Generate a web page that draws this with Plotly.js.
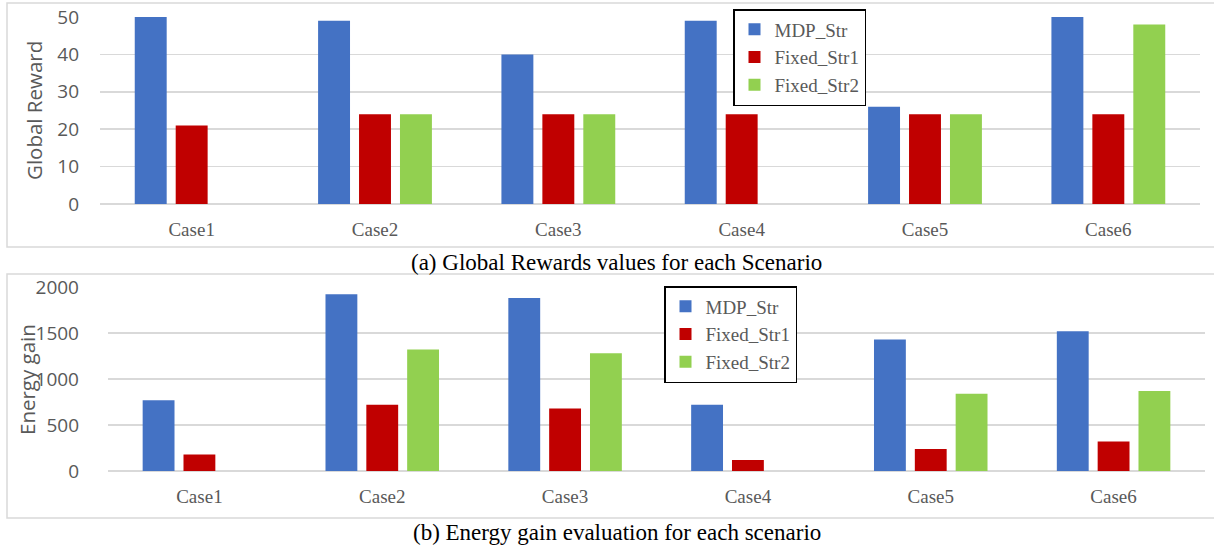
<!DOCTYPE html>
<html>
<head>
<meta charset="utf-8">
<script src="https://cdn.plot.ly/plotly-3.0.1.min.js"></script>
<style>html,body{margin:0;padding:0;background:#fff;}#chart{width:1214px;height:549px;}</style>
</head>
<body>
<div id="chart"></div>
<script>
const categories = ["Case1", "Case2", "Case3", "Case4", "Case5", "Case6"];
const seriesNames = ["MDP_Str", "Fixed_Str1", "Fixed_Str2"];
const rewardMDP = [50, 49, 40, 49, 26, 50];
const rewardFixed1 = [21, 24, 24, 24, 24, 24];
const rewardFixed2 = [0, 24, 24, 0, 24, 48];
const energyMDP = [770, 1920, 1880, 720, 1430, 1520];
const energyFixed1 = [180, 720, 680, 120, 240, 320];
const energyFixed2 = [0, 1320, 1280, 0, 840, 870];
const rewardTicks = [0, 10, 20, 30, 40, 50];
const energyTicks = [0, 500, 1000, 1500, 2000];
const colors = ["#4472C4", "#C00000", "#92D050"];

const W = 1214, H = 549;
const px = v => v / W;
const py = v => 1 - v / H;

const topVals = [rewardMDP, rewardFixed1, rewardFixed2];
const botVals = [energyMDP, energyFixed1, energyFixed2];
const traces = [];
topVals.forEach((vals, i) => traces.push({
  type: 'bar', x: categories, y: vals, name: seriesNames[i],
  marker: {color: colors[i]}, xaxis: 'x', yaxis: 'y', legend: 'legend'
}));
botVals.forEach((vals, i) => traces.push({
  type: 'bar', x: categories, y: vals, name: seriesNames[i],
  marker: {color: colors[i]}, xaxis: 'x2', yaxis: 'y2', legend: 'legend2'
}));

const sans = '"Open Sans", "Noto Sans", sans-serif';
const serif = '"Liberation Serif", "DejaVu Serif", serif';
const gray = '#595959';
const grid = '#d9d9d9';

function yax(domain, range, ticks) {
  return {
    domain: domain, range: range, tickvals: ticks, fixedrange: true,
    showgrid: true, gridcolor: grid, gridwidth: 1.5,
    zeroline: true, zerolinecolor: grid, zerolinewidth: 1.5,
    showline: false, ticks: '', ticklabelstandoff: 20,
    tickfont: {family: sans, size: 19, color: gray}
  };
}
function xax(domain, anchor) {
  return {
    domain: domain, anchor: anchor, showgrid: false, zeroline: false, showline: false,
    ticks: '', ticklabelstandoff: 12, fixedrange: true,
    tickfont: {family: serif, size: 19, color: gray}
  };
}
function leg(x, y) {
  return {
    x: x, y: y, xanchor: 'left', yanchor: 'top',
    bgcolor: '#fff', bordercolor: '#000', borderwidth: 1.5,
    font: {family: serif, size: 19, color: gray}, itemwidth: 30
  };
}

const layout = {
  width: W, height: H,
  margin: {l: 0, r: 0, t: 0, b: 0},
  paper_bgcolor: '#fff', plot_bgcolor: 'rgba(0,0,0,0)',
  barmode: 'group', bargap: 0.33, bargroupgap: 0.22,
  xaxis: xax([px(100), px(1200)], 'y'),
  yaxis: yax([py(204), py(17)], [0, 50], rewardTicks),
  xaxis2: xax([px(108), px(1205)], 'y2'),
  yaxis2: yax([py(471), py(287)], [0, 2000], energyTicks),
  legend: leg(px(733), py(9)),
  legend2: leg(px(664), py(286)),
  shapes: [
    {type: 'rect', xref: 'paper', yref: 'paper', x0: px(7), x1: px(1225), y0: py(247), y1: py(3),
     line: {color: grid, width: 1.5}, layer: 'below'},
    {type: 'rect', xref: 'paper', yref: 'paper', x0: px(7), x1: px(1225), y0: py(518), y1: py(274),
     line: {color: grid, width: 1.5}, layer: 'below'}
  ],
  annotations: [
    {text: 'Global Reward', xref: 'paper', yref: 'paper', x: px(34), y: py(111), showarrow: false,
     xanchor: 'center', yanchor: 'middle', textangle: -90, font: {family: sans, size: 20.5, color: gray}},
    {text: 'Energy gain', xref: 'paper', yref: 'paper', x: px(27), y: py(380), showarrow: false,
     xanchor: 'center', yanchor: 'middle', textangle: -90, font: {family: sans, size: 20.5, color: gray}},
    {text: '(a) Global Rewards values for each Scenario', xref: 'paper', yref: 'paper',
     x: px(616), y: py(263), xanchor: 'center', yanchor: 'middle', showarrow: false,
     font: {family: serif, size: 23, color: '#000'}},
    {text: '(b) Energy gain evaluation for each scenario', xref: 'paper', yref: 'paper',
     x: px(617), y: py(532), xanchor: 'center', yanchor: 'middle', showarrow: false,
     font: {family: serif, size: 23, color: '#000'}}
  ]
};

Plotly.newPlot('chart', traces, layout, {displayModeBar: false, staticPlot: true});
</script>
</body>
</html>
